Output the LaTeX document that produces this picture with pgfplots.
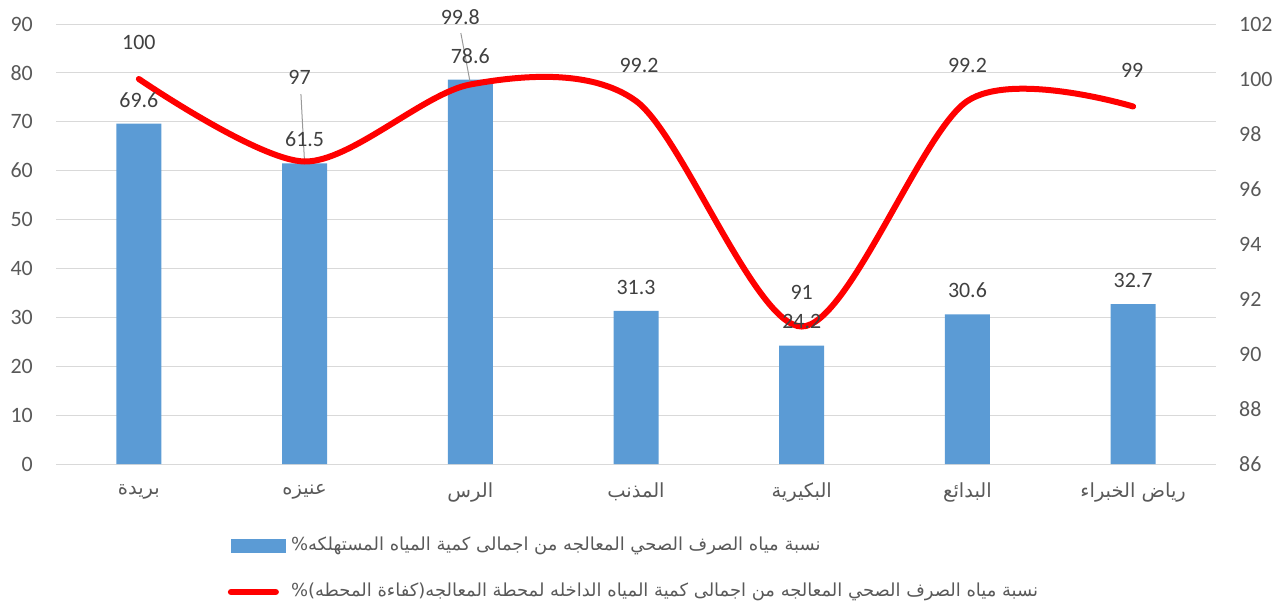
\documentclass[border=0pt]{standalone}
\usepackage{fontspec}
\setmainfont{Carlito}
\newfontfamily\arabicfont[Script=Arabic]{DejaVu Sans}
\TeXXeTstate=1
\usepackage{pgfplots}
\usepackage{pgfplotstable}
\pgfplotsset{compat=1.18}
\usetikzlibrary{calc}
\definecolor{barblue}{HTML}{5B9BD5}
\definecolor{gridgray}{HTML}{D9D9D9}
\definecolor{ticktext}{HTML}{595959}
\definecolor{labeltext}{HTML}{404040}

% bars: share of treated wastewater vs consumed water
\pgfplotstableread{
x bar
0 69.6
1 61.5
2 78.6
3 31.3
4 24.2
5 30.6
6 32.7
}\bardata
% line: plant efficiency, with label offsets (bp)
\pgfplotstableread{
x eff dx dy
0 100 0 37
1 97 -5 84
2 99.8 -10 67
3 99.2 3 36
4 91 0 34
5 99.2 0 36
6 99 -1 36
}\effdata

\pgfplotsset{
  base/.style={
    scale only axis, width=1160bp, height=440bp,
    xmin=-0.5, xmax=6.5,
    axis line style={draw=none},
    major tick length=0pt,
    tick label style={font=\fontsize{22}{26}\selectfont, text=ticktext},
    /pgf/number format/assume math mode=true,
  },
}

\begin{document}
\begin{tikzpicture}
\begin{axis}[base,
  ymin=0, ymax=90, ytick={0,10,...,90},
  ymajorgrids, grid style={gridgray, line width=1bp},
  yticklabel pos=left,
  yticklabel style={inner sep=0pt, anchor=east, xshift=-23bp},
  xtick={0,...,6},
  xticklabels={{\arabicfont\beginR بريدة\endR},{\arabicfont\beginR عنيزه\endR},{\arabicfont\beginR الرس\endR},{\arabicfont\beginR المذنب\endR},{\arabicfont\beginR البكيرية\endR},{\arabicfont\beginR البدائع\endR},{\arabicfont\beginR رياض الخبراء\endR}},
  xticklabel style={font=\arabicfont\fontsize{19.5}{23}\selectfont, anchor=center, yshift=-28bp},
]
\addplot[ybar, bar width=45bp, fill=barblue, draw=none]
  table[x=x, y=bar] {\bardata};
\coordinate (sw) at (rel axis cs:0,0);
\coordinate (ne) at (rel axis cs:1,1);
\end{axis}

\begin{axis}[base,
  ymin=86, ymax=102, ytick={86,88,...,102},
  yticklabel pos=right,
  yticklabel style={inner sep=0pt, anchor=west, xshift=23bp},
  xtick=\empty,
  legend cell align=left,
  legend style={at={(0.148,-0.2386)}, anchor=west, draw=none, fill=none,
    inner sep=0pt, row sep=30bp, column sep=6bp,
    font=\arabicfont\fontsize{18}{22}\selectfont, text=ticktext,
    nodes={inner sep=0pt, text height=12bp, text depth=4bp}},
]
\addlegendimage{legend image code/.code={\fill[barblue] (0bp,-6.5bp) rectangle (54bp,6.5bp);}}
\addlegendentry{\arabicfont\beginR نسبة مياه الصرف الصحي المعالجه من اجمالى كمية المياه المستهلكه\%\endR}
% leader lines of the moved labels
\addplot[gray!80, line width=1bp, forget plot] coordinates {(1,96.95) (0.978,99.45)};
\addplot[gray!80, line width=1bp, forget plot] coordinates {(2,99.85) (1.943,101.67)};
\addplot[red, line width=6bp, line cap=round, smooth, no marks,
  legend image code/.code={\draw[red, line width=6bp, line cap=round] (0bp,0bp) -- (45bp,0bp);},
  nodes near coords,
  visualization depends on={\thisrow{dx} \as \dx},
  visualization depends on={\thisrow{dy} \as \dy},
  every node near coord/.append style={font=\fontsize{22}{26}\selectfont, text=labeltext, anchor=center, xshift=\dx bp, yshift=\dy bp}]
  table[x=x, y=eff] {\effdata};
\addlegendentry{\arabicfont\beginR نسبة مياه الصرف الصحي المعالجه من اجمالى كمية المياه الداخله لمحطة المعالجه(كفاءة المحطه)\%\endR}
% bar value labels, mapped onto this axis so they sit above the line
\addplot[draw=none, no marks, forget plot,
  nodes near coords, point meta=explicit,
  every node near coord/.append style={font=\fontsize{22}{26}\selectfont, text=labeltext, anchor=center, yshift=24bp}]
  table[x=x, y expr=86+\thisrow{bar}*16/90, meta=bar] {\bardata};
\end{axis}
\pgfresetboundingbox
\path ($(sw)+(-56bp,-141bp)$) rectangle ($(ne)+(70bp,24bp)$);
\end{tikzpicture}
\end{document}
